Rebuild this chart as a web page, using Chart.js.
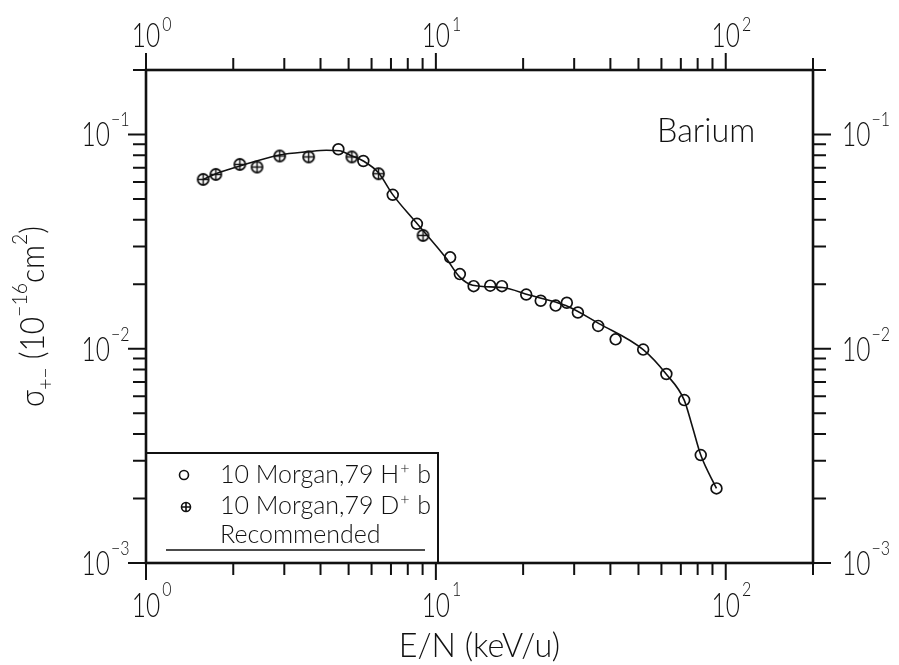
<!DOCTYPE html>
<html>
<head>
<meta charset="utf-8">
<script src="https://cdn.jsdelivr.net/npm/chart.js@4.4.0/dist/chart.umd.min.js"></script>
<style>
  html, body { margin: 0; padding: 0; background: #fff; }
  #wrap { width: 899px; height: 665px; }
</style>
</head>
<body>
<div id="wrap"><canvas id="chart" width="899" height="665"></canvas></div>
<script>
// 10 Morgan,79 H+ b
const hEnergy = [4.61, 5.62, 7.10, 8.60, 11.2, 12.1, 13.5, 15.4, 16.9, 20.5, 23.0, 25.9, 28.3, 30.9, 36.3, 41.7, 51.9, 62.4, 71.9, 82.0, 92.9];
const hSigma = [0.0853, 0.0752, 0.0523, 0.0383, 0.0267, 0.0223, 0.0196, 0.0197, 0.0196, 0.0179, 0.01675, 0.0159, 0.0164, 0.01476, 0.01278, 0.01106, 0.00991, 0.00762, 0.00576, 0.00319, 0.00223];
// 10 Morgan,79 D+ b
const dEnergy = [1.575, 1.742, 2.107, 2.416, 2.893, 3.640, 5.131, 6.34, 9.03];
const dSigma = [0.0617, 0.0651, 0.0725, 0.0705, 0.0794, 0.0786, 0.0786, 0.0656, 0.0338];
// Recommended curve
const recEnergy = [1.575, 1.742, 2.107, 2.893, 3.64, 4.19, 4.65, 5.13, 5.62, 6.34, 7.10, 8.58, 10.84, 12.05, 13.39, 16.98, 20.98, 28.06, 36.54, 51.9, 62.4, 71.9, 76.6, 82.0, 92.9];
const recSigma = [0.0617, 0.0656, 0.0713, 0.0803, 0.0832, 0.0844, 0.0839, 0.0794, 0.0752, 0.0663, 0.0524, 0.0386, 0.0265, 0.0217, 0.0198, 0.0193, 0.0178, 0.0159, 0.0131, 0.0099, 0.0076, 0.00576, 0.00436, 0.00319, 0.00223];

const xDecades = [1, 10, 100];
const xExponents = ['0', '1', '2'];
const yDecades = [0.001, 0.01, 0.1];
const yExponents = ['\u22123', '\u22122', '\u22121'];
const xRange = [1, 200];
const yRange = [0.001, 0.2];

const INK = '#111';
const FONT = 'Lato, "Liberation Sans", sans-serif';

function drawText(ctx, s, x, y, size, align, sx, weight = 300) {
    ctx.save();
    ctx.font = `${weight} ${size}px ${FONT}`;
    ctx.textBaseline = 'alphabetic';
    ctx.textAlign = 'left';
    const w = ctx.measureText(s).width * sx;
    let x0 = x;
    if (align === 'center') x0 = x - w / 2;
    else if (align === 'right') x0 = x - w;
    ctx.translate(x0, y);
    ctx.scale(sx, 1);
    ctx.fillText(s, 0, 0);
    ctx.restore();
    return w;
}

function textWidth(ctx, s, size, sx, weight = 300) {
    ctx.save();
    ctx.font = `${weight} ${size}px ${FONT}`;
    const w = ctx.measureText(s).width * sx;
    ctx.restore();
    return w;
}

function tickList(decades, max) {
    const out = [];
    decades.forEach(d => {
        for (let m = 1; m <= 9; m++) {
            const v = d * m;
            if (v <= max * 1.0001) out.push({ value: v, major: m === 1 });
        }
    });
    return out;
}

// circle with a cross, used for the D+ points
function plusCircle(r, lw) {
    const c = document.createElement('canvas');
    const s = Math.ceil(2 * r + lw + 2);
    c.width = s; c.height = s;
    const g = c.getContext('2d');
    g.strokeStyle = INK;
    g.lineWidth = lw;
    g.beginPath();
    g.arc(s / 2, s / 2, r, 0, Math.PI * 2);
    g.stroke();
    g.lineWidth = lw * 0.8;
    g.beginPath();
    g.moveTo(s / 2 - r, s / 2); g.lineTo(s / 2 + r, s / 2);
    g.moveTo(s / 2, s / 2 - r); g.lineTo(s / 2, s / 2 + r);
    g.stroke();
    return c;
}

const framePlugin = {
    id: 'frame',
    afterDatasetsDraw(chart) {
        const { ctx, chartArea: a, scales: { x, y } } = chart;
        ctx.save();
        ctx.strokeStyle = INK;
        ctx.fillStyle = INK;

        // ticks, all pointing outwards
        ctx.lineWidth = 2;
        ctx.beginPath();
        tickList(xDecades, xRange[1]).forEach(t => {
            const px = x.getPixelForValue(t.value);
            const len = t.major ? 17 : 12;
            ctx.moveTo(px, a.top); ctx.lineTo(px, a.top - len);
            ctx.moveTo(px, a.bottom); ctx.lineTo(px, a.bottom + len);
        });
        tickList(yDecades, yRange[1]).forEach(t => {
            const py = y.getPixelForValue(t.value);
            const len = t.major ? 18 : 13;
            ctx.moveTo(a.left, py); ctx.lineTo(a.left - len, py);
            ctx.moveTo(a.right, py); ctx.lineTo(a.right + len, py);
        });
        ctx.stroke();

        ctx.lineWidth = 2.6;
        ctx.strokeRect(a.left, a.top, a.right - a.left, a.bottom - a.top);

        // tick labels
        const bs = 34, bx = 0.72, es = 20, ex = 0.8;
        xDecades.forEach((d, i) => {
            const px = x.getPixelForValue(d);
            const w = textWidth(ctx, '10', bs, bx);
            drawText(ctx, '10', px, 47, bs, 'center', bx);
            drawText(ctx, xExponents[i], px + w / 2 + 2, 31, es, 'left', ex);
            drawText(ctx, '10', px, 617, bs, 'center', bx);
            drawText(ctx, xExponents[i], px + w / 2 + 2, 596, es, 'left', ex);
        });
        yDecades.forEach((d, i) => {
            const py = y.getPixelForValue(d);
            drawText(ctx, '10', 110, py + 12, bs, 'right', bx);
            drawText(ctx, yExponents[i], 111, py - 8, es, 'left', ex);
            const w = drawText(ctx, '10', 842, py + 12, bs, 'left', bx);
            drawText(ctx, yExponents[i], 842 + w + 1, py - 8, es, 'left', ex);
        });

        // axis titles
        drawText(ctx, 'E/N (keV/u)', (a.left + a.right) / 2, 657, 34, 'center', 0.95);

        const ts = 34, tx = 0.88, ss = 22;
        const parts = [
            { s: '\u03c3', size: ts, dy: 0 },
            { s: '+\u2212', size: ss, dy: 9 },
            { s: ' (10', size: ts, dy: 0 },
            { s: '\u221216', size: ss, dy: -17 },
            { s: 'cm', size: ts, dy: 0 },
            { s: '2', size: ss, dy: -17 },
            { s: ')', size: ts, dy: 0 }
        ];
        let total = 0;
        parts.forEach(p => { p.w = textWidth(ctx, p.s, p.size, tx); total += p.w; });
        ctx.save();
        ctx.translate(44, (a.top + a.bottom) / 2);
        ctx.rotate(-Math.PI / 2);
        let cx = -total / 2;
        parts.forEach(p => { drawText(ctx, p.s, cx, p.dy, p.size, 'left', tx); cx += p.w; });
        ctx.restore();

        // element name
        drawText(ctx, 'Barium', 657, 142, 34, 'left', 0.95);

        // legend box
        const lx0 = a.left, lx1 = 438, ly0 = 453, ly1 = a.bottom;
        ctx.lineWidth = 2;
        ctx.beginPath();
        ctx.moveTo(lx0, ly0); ctx.lineTo(lx1, ly0); ctx.lineTo(lx1, ly1);
        ctx.stroke();

        ctx.lineWidth = 1.6;
        ctx.beginPath();
        ctx.arc(184, 475, 4.5, 0, Math.PI * 2);
        ctx.stroke();
        ctx.beginPath();
        ctx.arc(186, 507, 4.5, 0, Math.PI * 2);
        ctx.moveTo(181.5, 507); ctx.lineTo(190.5, 507);
        ctx.moveTo(186, 502.5); ctx.lineTo(186, 511.5);
        ctx.stroke();

        const ls = 25;
        let w1 = drawText(ctx, '10 Morgan,79 H', 220, 483, ls, 'left', 1);
        let w2 = drawText(ctx, '+', 220 + w1 + 1, 474, 16, 'left', 1);
        drawText(ctx, ' b', 220 + w1 + w2 + 2, 483, ls, 'left', 1);
        w1 = drawText(ctx, '10 Morgan,79 D', 220, 514, ls, 'left', 1);
        w2 = drawText(ctx, '+', 220 + w1 + 1, 505, 16, 'left', 1);
        drawText(ctx, ' b', 220 + w1 + w2 + 2, 514, ls, 'left', 1);
        drawText(ctx, 'Recommended', 220, 543, ls, 'left', 1);
        ctx.lineWidth = 1.6;
        ctx.beginPath();
        ctx.moveTo(166, 550); ctx.lineTo(425, 550);
        ctx.stroke();

        ctx.restore();
    }
};

const toPoints = (xs, ys) => xs.map((v, i) => ({ x: v, y: ys[i] }));

new Chart(document.getElementById('chart'), {
    type: 'scatter',
    data: {
        datasets: [
            {
                label: 'Recommended',
                data: toPoints(recEnergy, recSigma),
                showLine: true,
                borderColor: INK,
                borderWidth: 1.6,
                pointRadius: 0,
                cubicInterpolationMode: 'monotone',
                fill: false
            },
            {
                label: '10 Morgan,79 H+ b',
                data: toPoints(hEnergy, hSigma),
                showLine: false,
                pointStyle: 'circle',
                pointRadius: 5.4,
                pointBorderWidth: 1.7,
                pointBorderColor: INK,
                pointBackgroundColor: 'rgba(0,0,0,0)'
            },
            {
                label: '10 Morgan,79 D+ b',
                data: toPoints(dEnergy, dSigma),
                showLine: false,
                pointStyle: plusCircle(5.5, 1.8),
                pointRadius: 6
            }
        ]
    },
    options: {
        responsive: false,
        animation: false,
        devicePixelRatio: 1,
        layout: { padding: { left: 146, top: 70, right: 86, bottom: 102 } },
        scales: {
            x: { type: 'logarithmic', min: xRange[0], max: xRange[1], display: false },
            y: { type: 'logarithmic', min: yRange[0], max: yRange[1], display: false }
        },
        plugins: {
            legend: { display: false },
            tooltip: { enabled: false }
        }
    },
    plugins: [framePlugin]
});
</script>
</body>
</html>
